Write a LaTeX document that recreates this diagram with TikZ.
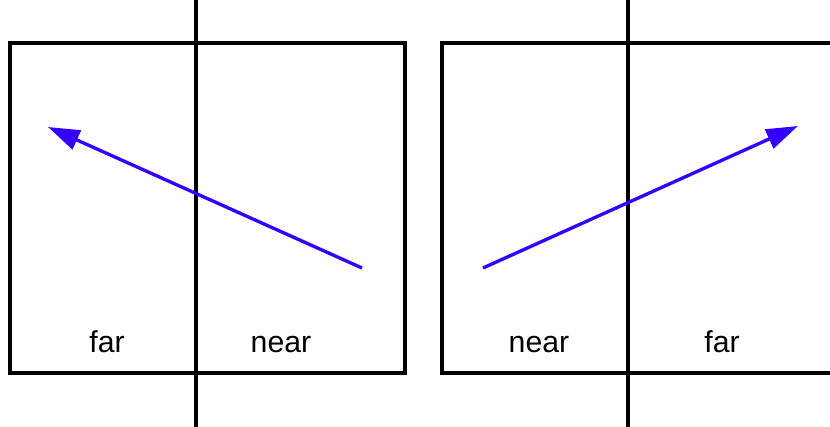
\documentclass[tikz,border=0pt]{standalone}
\usepackage{fontspec}
\setmainfont{Liberation Sans}
\usepackage{tikz}
\usetikzlibrary{arrows.meta}

\definecolor{ray}{RGB}{51,0,255}

\tikzset{
    frame/.style={line width=1pt},
    sight/.style={ray, line width=0.95pt, -{Triangle[length=9pt,width=5.8pt]}},
    side/.style={anchor=base, font=\fontsize{8.6}{10}\selectfont}
}

\begin{document}
\begin{tikzpicture}

\clip (0,0) rectangle (8.3,4.27);

% left panel
\draw[frame] (0.10,0.54) rectangle (4.05,3.84);
\draw[frame] (1.96,0) -- (1.96,4.27);

\coordinate (lstart) at (3.62,1.59);
\coordinate (lend) at (0.48,3.00);
\draw[sight] (lstart) -- (lend);

\node[side] (lfar) at (1.07,0.74) {far};
\node[side] (lnear) at (2.81,0.74) {near};

% right panel
\draw[frame] (4.42,0.54) rectangle (8.45,3.84);
\draw[frame] (6.28,0) -- (6.28,4.27);

\coordinate (rstart) at (4.83,1.59);
\coordinate (rend) at (7.98,3.01);
\draw[sight] (rstart) -- (rend);

\node[side] (rnear) at (5.39,0.74) {near};
\node[side] (rfar) at (7.22,0.74) {far};

\end{tikzpicture}
\end{document}
